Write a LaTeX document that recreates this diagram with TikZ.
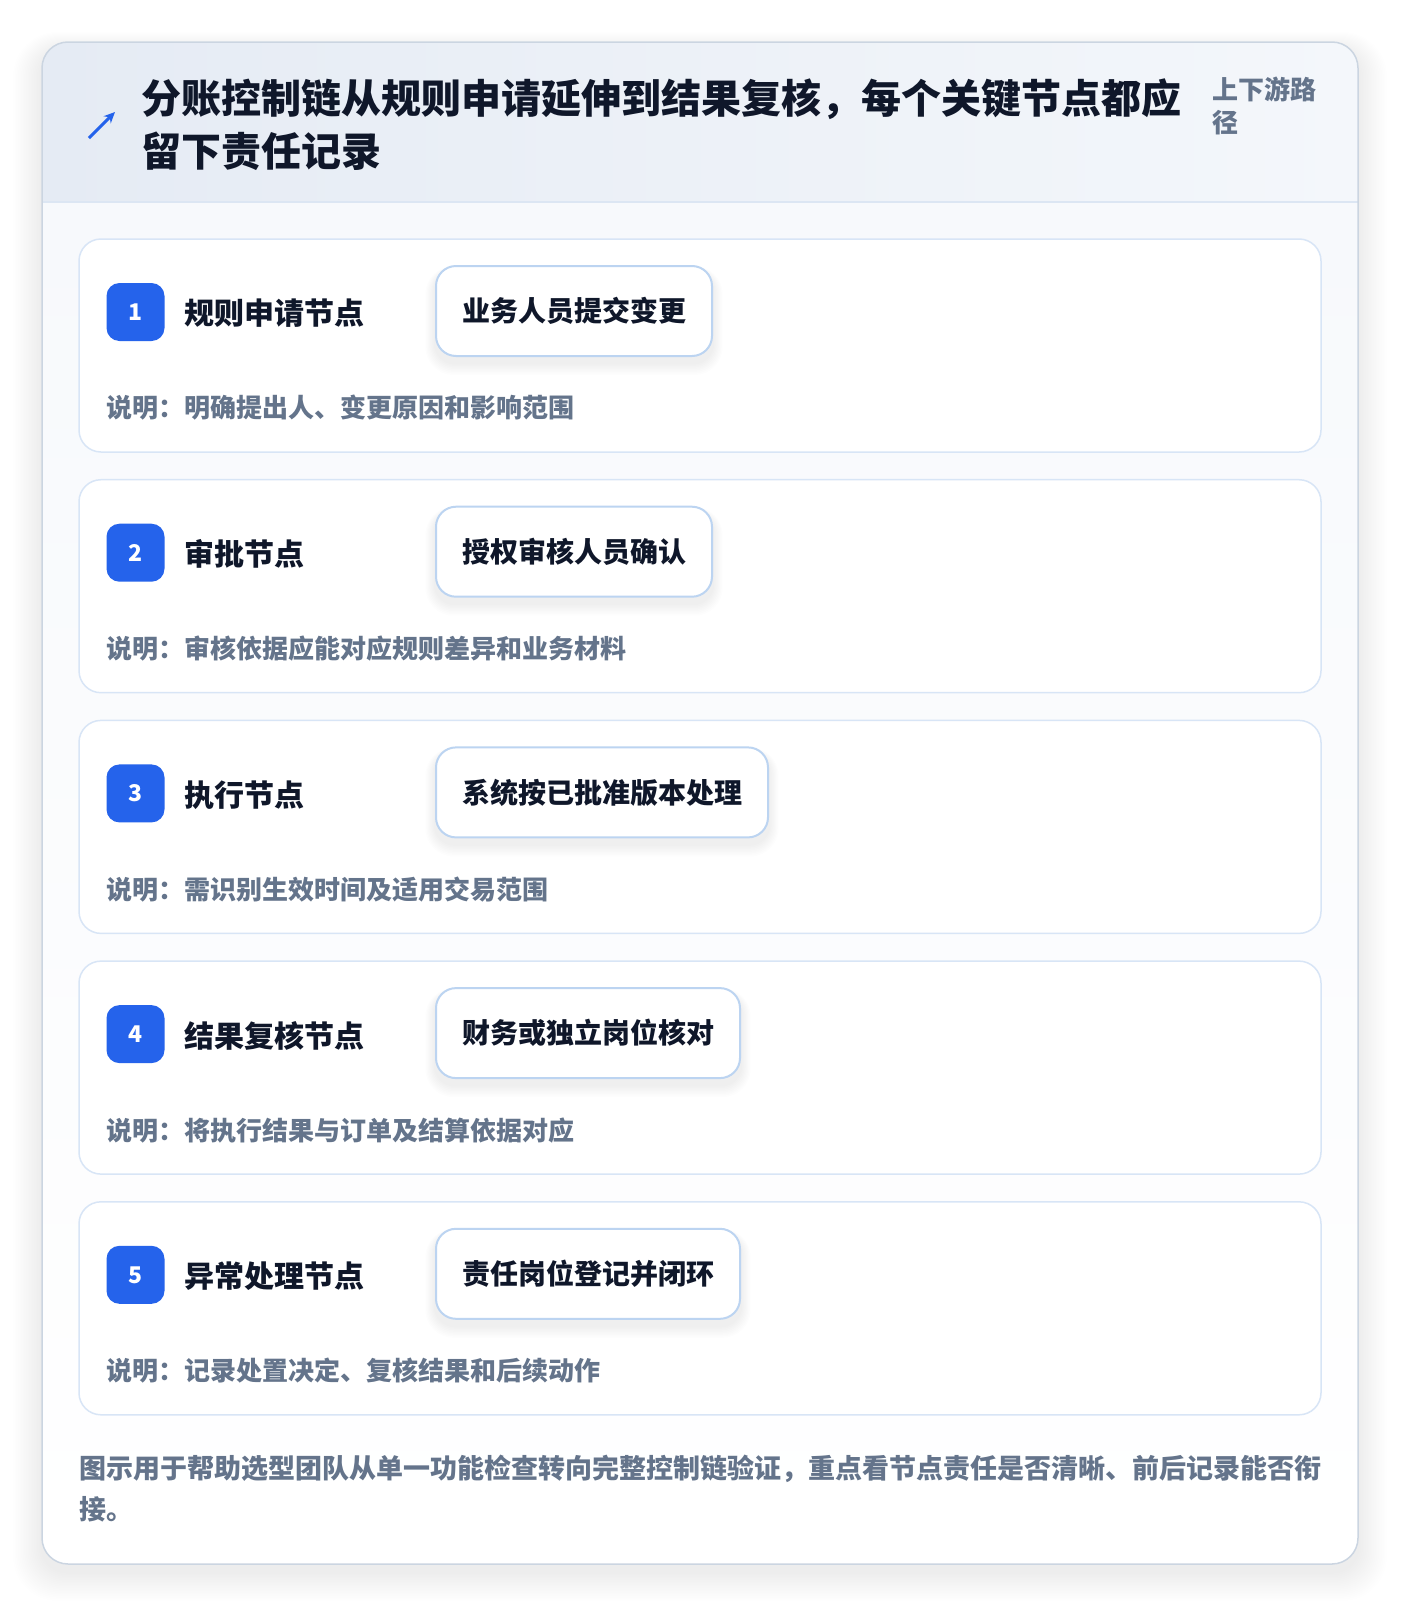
\documentclass[tikz,border=0pt]{standalone}
\usepackage{fontspec}
\setmainfont{Noto Sans CJK SC}
\usetikzlibrary{arrows.meta}
\definecolor{navy}{HTML}{0F172A}
\definecolor{slate}{HTML}{64748B}
\definecolor{badgeblue}{HTML}{2563EB}
\definecolor{cardline}{HTML}{CBD5E1}
\definecolor{hdrL}{HTML}{E5EBF4}
\definecolor{hdrR}{HTML}{F4F7FB}
\definecolor{bodyT}{HTML}{F7F9FC}
\definecolor{hdrline}{HTML}{DCE6F3}
\definecolor{stepline}{HTML}{D8E5F6}
\definecolor{tagline}{HTML}{BCD4F1}
\pgfdeclarelayer{back}
\pgfdeclarelayer{mid}
\pgfsetlayers{back,mid,main}
\tikzset{
  stepcard/.style={fill=white,draw=stepline,line width=1.5pt,rounded corners=22pt},
  tagbox/.style={fill=white,draw=tagline,line width=2pt,rounded corners=20pt,
    minimum height=90pt,inner xsep=26pt,inner ysep=0pt,anchor=west,
    font=\bfseries\fontsize{28}{28}\selectfont,text=navy},
  badgebox/.style={fill=badgeblue,rounded corners=13pt,minimum size=58pt,inner sep=0pt,
    text=white,font=\bfseries\fontsize{23}{23}\selectfont},
  steptitle/.style={anchor=west,inner sep=0pt,text=navy,font=\bfseries\fontsize{30}{30}\selectfont},
  stepdesc/.style={anchor=west,inner sep=0pt,text=slate,font=\bfseries\fontsize{26}{26}\selectfont},
}
\begin{document}
\begin{tikzpicture}[x=1pt,y=-1pt]
\useasboundingbox (0,0) rectangle (1400,1606);
\begin{pgfonlayer}{back}
% outer shadow
\foreach \i in {1,...,18}{
  \fill[black,opacity=0.0045,rounded corners={26pt+\i pt}]
    ({42-1.6*\i},{42-1.0*\i+8}) rectangle ({1358+1.6*\i},{1564+1.6*\i+8});
}
% outer card
\fill[white,rounded corners=26pt] (42,42) rectangle (1358,1564);
\begin{scope}
  \clip[rounded corners=26pt] (42,42) rectangle (1358,1564);
  \shade[left color=hdrL,right color=hdrR] (42,42) rectangle (1358,202);
  \shade[top color=bodyT,bottom color=white] (42,202) rectangle (1358,1564);
  \draw[hdrline,line width=1.5pt] (42,202) -- (1358,202);
\end{scope}
\draw[cardline,line width=1.5pt,rounded corners=26pt] (42,42) rectangle (1358,1564);
\end{pgfonlayer}
% header
\coordinate (arrS) at (89,138);
\coordinate (arrE) at (115,112);
\draw[badgeblue,line width=3pt,-{Stealth[length=11pt,width=10pt]}] (arrS) -- (arrE);
\node[anchor=base west,inner sep=0pt,align=left,text=navy,
  font=\bfseries\fontsize{40}{53.3}\selectfont] (title) at (141.5,166.5)
  {分账控制链从规则申请延伸到结果复核，每个关键节点都应\\留下责任记录};
\node[anchor=base west,inner sep=0pt,align=left,text=slate,
  font=\bfseries\fontsize{26}{33}\selectfont] (side) at (1212.5,132.6)
  {上下游路\\径};
% steps
\foreach \n/\t/\g/\d [count=\k from 0] in {
  1/规则申请节点/业务人员提交变更/说明：明确提出人、变更原因和影响范围,
  2/审批节点/授权审核人员确认/说明：审核依据应能对应规则差异和业务材料,
  3/执行节点/系统按已批准版本处理/说明：需识别生效时间及适用交易范围,
  4/结果复核节点/财务或独立岗位核对/说明：将执行结果与订单及结算依据对应,
  5/异常处理节点/责任岗位登记并闭环/说明：记录处置决定、复核结果和后续动作}{
  \pgfmathsetmacro{\top}{239+240.7*\k}
  \begin{pgfonlayer}{back}
    \draw[stepcard] (79,\top) rectangle (1321,{\top+213});
  \end{pgfonlayer}
  \node[tagbox] (tag\n) at (435,{\top+72}) {\g};
  \begin{pgfonlayer}{mid}
    \path (tag\n.south west) coordinate (sw\n) (tag\n.north east) coordinate (ne\n);
    \foreach \j in {1,...,8}{
      \fill[black,opacity=0.006,rounded corners={20pt+\j pt}]
        ([xshift={-\j*1.2pt},yshift={\j*0.6pt-6pt}]sw\n |- ne\n) rectangle ([xshift={\j*1.2pt},yshift={-\j*1.5pt-6pt}]ne\n |- sw\n);
    }
  \end{pgfonlayer}
  \node[badgebox] (badge\n) at (135.5,{\top+73}) {\n};
  \node[steptitle] (stitle\n) at (184.5,{\top+74.5}) {\t};
  \node[stepdesc] (desc\n) at (106.6,{\top+169}) {\d};
}
% footer note
\node[anchor=base west,inner sep=0pt,align=left,text=slate,
  font=\bfseries\fontsize{27}{41}\selectfont] (note) at (79,1519)
  {图示用于帮助选型团队从单一功能检查转向完整控制链验证，重点看节点责任是否清晰、前后记录能否衔\\接。};
\end{tikzpicture}
\end{document}
